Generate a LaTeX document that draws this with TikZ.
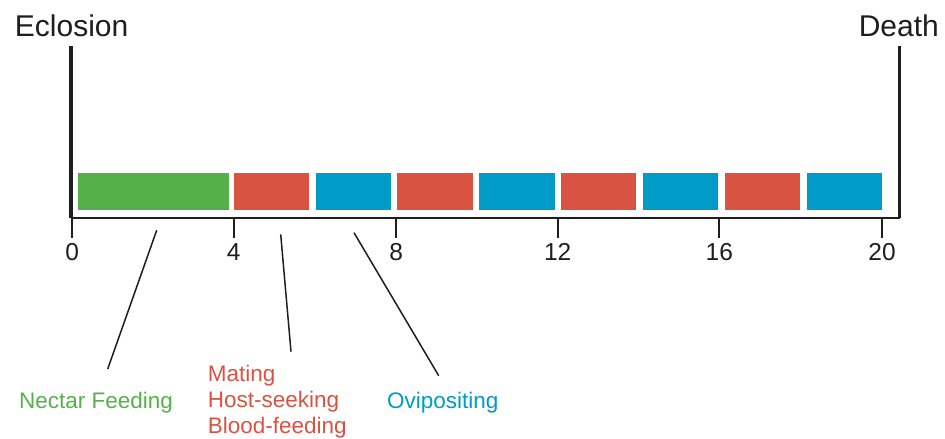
\documentclass[tikz,border=0pt]{standalone}
\usepackage{fontspec}
\setmainfont{Liberation Sans}
\definecolor{nectar}{RGB}{85,176,74}
\definecolor{host}{RGB}{217,83,66}
\definecolor{ovi}{RGB}{0,155,198}
\definecolor{ink}{RGB}{30,30,30}
\tikzset{
  barbox/.style={inner sep=0, outer sep=0, minimum height=37.3pt, anchor=north west},
  nectarbar/.style={barbox, fill=nectar},
  hostbar/.style={barbox, fill=host},
  ovibar/.style={barbox, fill=ovi},
  ticklabel/.style={inner sep=0, anchor=base, text=ink, font=\fontsize{24.5}{28}\selectfont},
  endlabel/.style={inner sep=0, text=ink, font=\fontsize{30}{34}\selectfont},
  actlabel/.style={inner sep=0, anchor=base west, align=left, font=\fontsize{22.5}{26}\selectfont},
  leader/.style={draw=ink, line width=1.5pt},
  axisline/.style={draw=ink, line width=2pt},
  endbar/.style={draw=ink, line width=3.3pt},
  tickline/.style={draw=ink, line width=2pt}
}
\begin{document}
\begin{tikzpicture}[x=1pt,y=-1pt]
\useasboundingbox (0,0) rectangle (945,439);
% end labels
\node[endlabel, anchor=base west] (ecl) at (14.7,36) {Eclosion};
\node[endlabel, anchor=base east] (dea) at (939,36) {Death};
% bars
\node[nectarbar, minimum width=151pt] (b1) at (78,172.7) {};
\node[hostbar, minimum width=75pt] (b2) at (234,172.7) {};
\node[ovibar, minimum width=75.3pt] (b3) at (316,172.7) {};
\node[hostbar, minimum width=75.7pt] (b4) at (397.3,172.7) {};
\node[ovibar, minimum width=75.4pt] (b5) at (479.3,172.7) {};
\node[hostbar, minimum width=75pt] (b6) at (561,172.7) {};
\node[ovibar, minimum width=75pt] (b7) at (643.3,172.7) {};
\node[hostbar, minimum width=75pt] (b8) at (725,172.7) {};
\node[ovibar, minimum width=75pt] (b9) at (806.7,172.7) {};
% axis frame
\coordinate (lt) at (71,46);
\coordinate (lb) at (71,217.5);
\coordinate (rt) at (899.5,46);
\coordinate (rb) at (899.5,217.5);
\draw[axisline] (lb) -- (rb);
\draw[endbar] (lt) -- (lb);
\draw[endbar] (rt) -- (rb);
% ticks
\foreach \v/\x in {0/72.3,4/233.7,8/396.3,12/557.7,16/719.3,20/882}{
  \coordinate (t\v) at (\x,217.5);
  \coordinate (tb\v) at (\x,238);
  \draw[tickline] (t\v) -- (tb\v);
  \node[ticklabel] (l\v) at (\x,260) {\v};
}
% activity labels
\node[actlabel, text=nectar] (nf) at (19,408.3) {Nectar Feeding};
\node[actlabel, text=host] (hs) at (207.7,433.7) {Mating\\Host-seeking\\Blood-feeding};
\node[actlabel, text=ovi] (ov) at (387,408.3) {Ovipositing};
% leader lines
\coordinate (n1) at (156.7,230.3);
\coordinate (n2) at (107.7,369);
\coordinate (h1) at (280.7,234.3);
\coordinate (h2) at (291,351.7);
\coordinate (o1) at (354,232.7);
\coordinate (o2) at (438.7,375.7);
\draw[leader] (n1) -- (n2);
\draw[leader] (h1) -- (h2);
\draw[leader] (o1) -- (o2);
\end{tikzpicture}
\end{document}
